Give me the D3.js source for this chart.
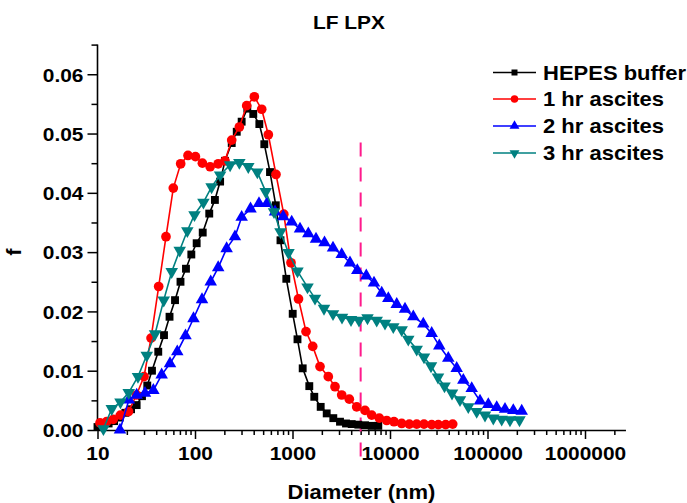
<!DOCTYPE html>
<html><head><meta charset="utf-8">
<script src="https://cdn.jsdelivr.net/npm/d3@7"></script>
<style>
body{margin:0;background:#fff}
svg{display:block}
text{font-family:"Liberation Sans",Arial,sans-serif;font-weight:bold;fill:#000}
</style>
</head><body>
<svg id="c" width="687" height="503"></svg>
<script>
// ---------- data ----------
const seriesNames = ["HEPES buffer", "1 hr ascites", "2 hr ascites", "3 hr ascites"];

const hepesD = [10.0, 11.4, 13.0, 14.8, 16.9, 19.3, 22.1, 25.2, 28.6, 32.4, 36.2, 42.0, 48.1, 54.8, 62.4, 71.0, 80.8, 91.7, 104, 120, 140, 160, 181, 203, 238, 268, 301, 344, 396, 457, 514, 588, 674, 753, 864, 1005, 1125, 1272, 1487, 1673, 1946, 2243, 2621, 3070, 3538, 4047, 4731, 5541, 6493, 7586];
const hepesF = [0.0005, 0.0008, 0.0011, 0.0015, 0.0021, 0.0029, 0.0035, 0.0042, 0.0057, 0.0075, 0.0100, 0.0132, 0.0160, 0.0191, 0.0219, 0.0250, 0.0272, 0.0296, 0.0315, 0.0333, 0.0365, 0.0388, 0.0419, 0.0454, 0.0484, 0.0503, 0.0520, 0.0542, 0.0533, 0.0516, 0.0482, 0.0435, 0.0379, 0.0320, 0.0255, 0.0196, 0.0153, 0.0104, 0.0074, 0.0056, 0.0039, 0.0028, 0.0020, 0.0014, 0.0011, 0.0010, 0.0009, 0.0008, 0.0007, 0.0007];

const hr1D = [10.6, 12.4, 14.5, 17.2, 20.8, 25.1, 30.0, 35.4, 42.4, 50.4, 59.9, 71.3, 84.8, 101, 119, 143, 173, 203, 238, 285, 339, 406, 483, 565, 677, 814, 965, 1152, 1376, 1612, 1915, 2329, 2729, 3196, 3824, 4555, 5541, 6493, 7770, 9254, 10990, 13180, 15780, 18790, 22320, 26790, 31280, 37240, 43970];
const hr1F = [0.0012, 0.0014, 0.0018, 0.0025, 0.0031, 0.0059, 0.0090, 0.0155, 0.0242, 0.0326, 0.0408, 0.0449, 0.0463, 0.0461, 0.0450, 0.0444, 0.0449, 0.0454, 0.0489, 0.0511, 0.0547, 0.0562, 0.0541, 0.0498, 0.0431, 0.0364, 0.0282, 0.0221, 0.0166, 0.0141, 0.0107, 0.0090, 0.0073, 0.0059, 0.0052, 0.0039, 0.0033, 0.0025, 0.0020, 0.0016, 0.0014, 0.0011, 0.0010, 0.0010, 0.0010, 0.0009, 0.0009, 0.0009, 0.0010];

const hr2D = [17.0, 21.0, 25.2, 30.7, 37.4, 45.5, 55.4, 65.8, 79.9, 96.5, 118, 145, 173, 211, 257, 301, 371, 453, 548, 662, 804, 981, 1194, 1452, 1742, 2129, 2603, 3196, 3888, 4619, 5713, 6853, 8222, 9608, 11720, 14250, 17340, 21950, 26770, 32030, 39620, 48320, 56480, 68870, 83770, 101900, 124300, 151200, 183900, 224300];
const hr2F = [0.0000, 0.0051, 0.0059, 0.0062, 0.0067, 0.0093, 0.0112, 0.0132, 0.0159, 0.0188, 0.0220, 0.0250, 0.0274, 0.0306, 0.0326, 0.0359, 0.0373, 0.0382, 0.0382, 0.0368, 0.0360, 0.0351, 0.0339, 0.0331, 0.0322, 0.0316, 0.0307, 0.0296, 0.0282, 0.0269, 0.0260, 0.0248, 0.0231, 0.0222, 0.0212, 0.0204, 0.0191, 0.0179, 0.0163, 0.0142, 0.0121, 0.0104, 0.0084, 0.0070, 0.0049, 0.0043, 0.0038, 0.0035, 0.0033, 0.0032];

const hr3D = [11.5, 14.0, 17.2, 20.9, 26.0, 32.0, 38.9, 47.8, 57.7, 69.7, 83.4, 98.8, 122, 148, 181, 229, 285, 352, 436, 531, 646, 753, 910, 1125, 1425, 1701, 2104, 2603, 3219, 3981, 4809, 5878, 7305, 8887, 10810, 13180, 15400, 18780, 22320, 26340, 31070, 36230, 43240, 52240, 63540, 77470, 94280, 114700, 139800, 170100, 212900];
const hr3F = [0.0002, 0.0036, 0.0047, 0.0063, 0.0090, 0.0126, 0.0162, 0.0219, 0.0267, 0.0303, 0.0336, 0.0363, 0.0384, 0.0410, 0.0430, 0.0447, 0.0451, 0.0444, 0.0435, 0.0402, 0.0368, 0.0334, 0.0299, 0.0268, 0.0241, 0.0222, 0.0205, 0.0196, 0.0190, 0.0186, 0.0185, 0.0189, 0.0185, 0.0180, 0.0174, 0.0169, 0.0153, 0.0136, 0.0123, 0.0108, 0.0089, 0.0074, 0.0062, 0.0051, 0.0039, 0.0031, 0.0025, 0.0020, 0.0018, 0.0017, 0.0017];

const xTickValues = [10, 100, 1000, 10000, 100000, 1000000];
const xTickLabels = ["10", "100", "1000", "10000", "100000", "1000000"];
const yTickValues = [0, 0.01, 0.02, 0.03, 0.04, 0.05, 0.06];
const yTickLabels = ["0.00", "0.01", "0.02", "0.03", "0.04", "0.05", "0.06"];
const cutoffDiameter = 5000;
const cutoffRange = [-0.0055, 0.0485];

const titleText = "LF LPX";
const xTitle = "Diameter (nm)";
const yTitle = "f";

// ---------- layout ----------
const svg = d3.select("#c");
const X0 = 97.5, DEC = 97.5;
const xMax = 2.6e6;
const x = d3.scaleLog().domain([10, xMax]).range([X0, X0 + DEC * Math.log10(xMax / 10)]);
const y = d3.scaleLinear().domain([0, 0.065]).range([430, 44.6]);
const SX = 1.1, FS = 19;

const colors = ["#000000", "#ff0000", "#0000ff", "#008080"];
const shapes = [d3.symbolSquare, d3.symbolCircle, d3.symbolTriangle, d3.symbolTriangle];
const rot = [0, 0, 0, 180];
const sizes = [62, 74, 68, 68];
const legendSizes = [36, 44, 42, 42];

const series = [
  {d: hepesD, f: hepesF},
  {d: hr1D, f: hr1F},
  {d: hr2D, f: hr2F},
  {d: hr3D, f: hr3F}
];

// minor ticks
const xMinor = [];
for (let e = 1; e <= 6; e++) for (let m = 2; m <= 9; m++) { const v = m * Math.pow(10, e); if (v <= xMax) xMinor.push(v); }
const yMinor = d3.range(0.005, 0.0651, 0.01);

const gx = svg.append("g").attr("transform", "translate(0,430)");
gx.call(d3.axisBottom(x).tickValues(xMinor).tickSize(5).tickSizeOuter(0).tickFormat(""));
gx.call(g => g.select(".domain").remove());
const gx2 = svg.append("g").attr("transform", "translate(0,430)");
gx2.call(d3.axisBottom(x).tickValues(xTickValues).tickSize(9).tickSizeOuter(0).tickPadding(5)
  .tickFormat((d, i) => xTickLabels[i]));
[gx, gx2].forEach(g => {
  g.selectAll("line").attr("stroke", "#000").attr("stroke-width", 1.5);
  g.selectAll(".domain").attr("stroke", "#000").attr("stroke-width", 1.6);
});
gx2.selectAll("text").attr("font-size", FS).attr("dy", "0.71em").attr("y", 16.5)
  .attr("transform", `scale(${SX},1)`).style("font-family", '"Liberation Sans",Arial,sans-serif').style("font-weight", "bold");

const gy = svg.append("g").attr("transform", `translate(${X0},0)`);
gy.call(d3.axisLeft(y).tickValues(yMinor).tickSize(6).tickSizeOuter(0).tickFormat(""));
gy.call(g => g.select(".domain").remove());
const gy2 = svg.append("g").attr("transform", `translate(${X0},0)`);
gy2.call(d3.axisLeft(y).tickValues(yTickValues).tickSize(10).tickSizeOuter(0)
  .tickFormat((d, i) => yTickLabels[i]));
gy2.select(".domain").attr("d", `M0,${y(0.065)}V${y(0)}`);
[gy, gy2].forEach(g => {
  g.selectAll("line").attr("stroke", "#000").attr("stroke-width", 1.5);
  g.selectAll(".domain").attr("stroke", "#000").attr("stroke-width", 1.6);
});
gy2.selectAll("text").attr("font-size", FS).attr("x", -14 / SX).attr("dy", "0.36em")
  .attr("transform", `scale(${SX},1)`).style("font-family", '"Liberation Sans",Arial,sans-serif').style("font-weight", "bold");

// cutoff dashed line
svg.append("line")
  .attr("x1", x(cutoffDiameter)).attr("x2", x(cutoffDiameter))
  .attr("y1", y(cutoffRange[1])).attr("y2", y(cutoffRange[0]))
  .attr("stroke", "#ff1a8c").attr("stroke-width", 2).attr("stroke-dasharray", "14,11");

// series
const line = d3.line().x(p => x(p[0])).y(p => y(p[1]));
series.forEach((s, i) => {
  const pts = s.d.map((d, k) => [d, s.f[k]]);
  const g = svg.append("g");
  g.append("path").attr("d", line(pts)).attr("fill", "none").attr("stroke", colors[i]).attr("stroke-width", 1.6);
  const sym = d3.symbol().type(shapes[i]).size(sizes[i]);
  g.selectAll("path.m").data(pts).join("path").attr("class", "m")
    .attr("d", sym)
    .attr("transform", p => `translate(${x(p[0])},${y(p[1])}) rotate(${rot[i]})`)
    .attr("fill", colors[i]);
});

// legend
const lg = svg.append("g");
const rowY = [72.5, 99, 126, 153];
seriesNames.forEach((name, i) => {
  lg.append("line").attr("x1", 493).attr("x2", 536).attr("y1", rowY[i]).attr("y2", rowY[i])
    .attr("stroke", colors[i]).attr("stroke-width", 1.5);
  lg.append("path").attr("d", d3.symbol().type(shapes[i]).size(legendSizes[i]))
    .attr("transform", `translate(514.5,${rowY[i]}) rotate(${rot[i]})`).attr("fill", colors[i]);
  lg.append("text").attr("transform", `translate(543,${rowY[i] + 7}) scale(${SX},1)`)
    .attr("font-size", FS + 1).text(name);
});

// titles
svg.append("text").attr("transform", `translate(349,29) scale(${SX},1)`).attr("text-anchor", "middle")
  .attr("font-size", FS).text(titleText);
svg.append("text").attr("transform", `translate(${(x.range()[0] + x.range()[1]) / 2},499) scale(${SX},1)`)
  .attr("text-anchor", "middle").attr("font-size", FS + 1).text(xTitle);
svg.append("text").attr("transform", `translate(21,252) rotate(-90) scale(${SX},1)`)
  .attr("text-anchor", "middle").attr("font-size", FS + 1).text(yTitle);
</script>
</body></html>
